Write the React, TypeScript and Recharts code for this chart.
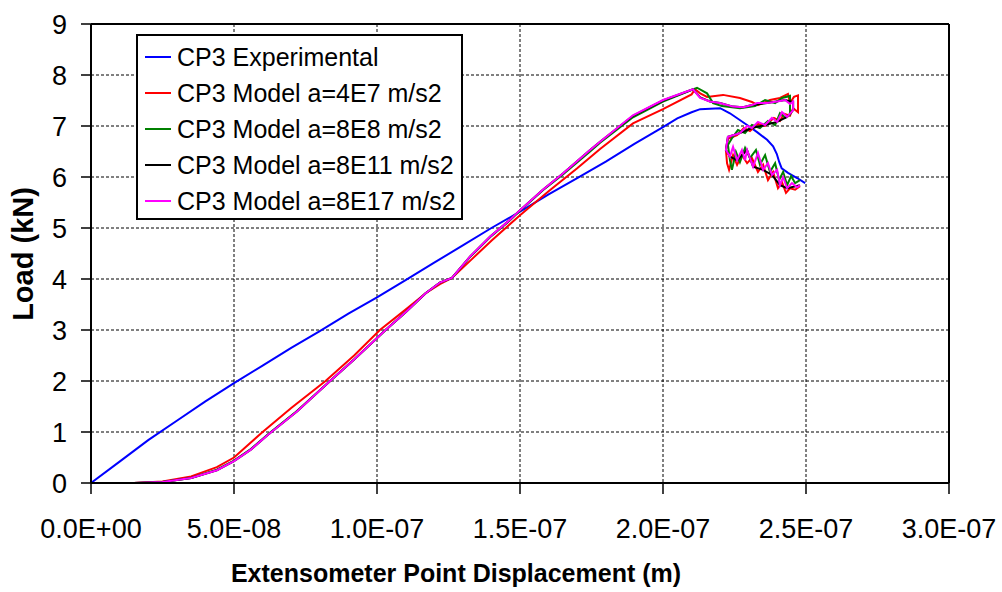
import React from "react";
import {
  LineChart,
  Line,
  XAxis,
  YAxis,
  CartesianGrid,
  Legend,
  ReferenceLine,
} from "recharts";

// displacement (m), load (kN)
const experimental: [number, number][] = [
  [0, 0], [1e-8, 0.42], [2e-8, 0.84], [3e-8, 1.22], [4e-8, 1.6], [5e-8, 1.96],
  [6e-8, 2.3], [7e-8, 2.65], [8e-8, 2.98], [9e-8, 3.32], [1e-7, 3.64],
  [1.1e-7, 3.98], [1.2e-7, 4.32], [1.3e-7, 4.66], [1.4e-7, 5.0], [1.5e-7, 5.32],
  [1.6e-7, 5.66], [1.7e-7, 5.98], [1.8e-7, 6.3], [1.9e-7, 6.65], [2.0e-7, 6.98],
  [2.05e-7, 7.15], [2.1e-7, 7.27], [2.13e-7, 7.33], [2.2e-7, 7.35],
  [2.234e-7, 7.25], [2.294e-7, 7.02], [2.329e-7, 6.88], [2.364e-7, 6.73],
  [2.385e-7, 6.6], [2.398e-7, 6.45], [2.406e-7, 6.3], [2.415e-7, 6.17],
  [2.437e-7, 6.08], [2.469e-7, 5.98], [2.497e-7, 5.88],
];

const modelA4E7: [number, number][] = [
  [0, 0], [1.5e-8, 0], [2.5e-8, 0.03], [3.5e-8, 0.13], [4.4e-8, 0.31], [5e-8, 0.5],
  [6e-8, 1.0], [7e-8, 1.47], [8.2e-8, 2.0], [9.2e-8, 2.5], [1.01e-7, 3.0],
  [1.1e-7, 3.4], [1.17e-7, 3.72], [1.22e-7, 3.9], [1.262e-7, 4.02], [1.33e-7, 4.38],
  [1.4e-7, 4.75], [1.5e-7, 5.25], [1.6e-7, 5.72], [1.7e-7, 6.17], [1.78e-7, 6.55],
  [1.895e-7, 7.05], [2.0e-7, 7.33], [2.1e-7, 7.62], [2.112e-7, 7.72],
  [2.13e-7, 7.64], [2.154e-7, 7.57], [2.21e-7, 7.61], [2.269e-7, 7.55],
  [2.311e-7, 7.47], [2.332e-7, 7.41], [2.35e-7, 7.45], [2.374e-7, 7.51],
  [2.409e-7, 7.55], [2.437e-7, 7.63], [2.444e-7, 7.45], [2.458e-7, 7.57],
  [2.472e-7, 7.6], [2.472e-7, 7.27], [2.455e-7, 7.35], [2.444e-7, 7.2],
  [2.423e-7, 7.24], [2.409e-7, 7.1], [2.388e-7, 7.16], [2.357e-7, 7.0],
  [2.332e-7, 7.04], [2.304e-7, 6.9], [2.283e-7, 6.96], [2.259e-7, 6.82],
  [2.227e-7, 6.75], [2.22e-7, 6.53], [2.224e-7, 6.27], [2.231e-7, 6.14],
  [2.245e-7, 6.43], [2.259e-7, 6.24], [2.276e-7, 6.43], [2.294e-7, 6.27],
  [2.311e-7, 6.37], [2.332e-7, 6.1], [2.35e-7, 6.24], [2.367e-7, 5.94],
  [2.385e-7, 6.1], [2.402e-7, 5.78], [2.416e-7, 5.9], [2.43e-7, 5.69],
  [2.444e-7, 5.78], [2.462e-7, 5.75], [2.479e-7, 5.82],
];

const modelA8E8: [number, number][] = [
  [0, 0], [1.5e-8, 0], [2.5e-8, 0.02], [3.5e-8, 0.1], [4.4e-8, 0.26], [5e-8, 0.44],
  [5.6e-8, 0.67], [6.2e-8, 0.96], [7.2e-8, 1.41], [8.36e-8, 2.0], [9.2e-8, 2.42],
  [1.03e-7, 3.0], [1.1e-7, 3.35], [1.17e-7, 3.72], [1.22e-7, 3.93], [1.262e-7, 4.02],
  [1.325e-7, 4.43], [1.395e-7, 4.82], [1.465e-7, 5.15], [1.5e-7, 5.34],
  [1.58e-7, 5.74], [1.65e-7, 6.05], [1.745e-7, 6.5], [1.78e-7, 6.67],
  [1.895e-7, 7.17], [2.0e-7, 7.48], [2.119e-7, 7.75],
  [2.154e-7, 7.64], [2.175e-7, 7.45], [2.206e-7, 7.39], [2.269e-7, 7.35],
  [2.322e-7, 7.39], [2.357e-7, 7.51], [2.392e-7, 7.45], [2.416e-7, 7.55],
  [2.444e-7, 7.59], [2.444e-7, 7.22], [2.427e-7, 7.16], [2.409e-7, 7.25],
  [2.392e-7, 7.02], [2.367e-7, 7.1], [2.339e-7, 6.96], [2.311e-7, 7.02],
  [2.287e-7, 6.86], [2.262e-7, 6.92], [2.241e-7, 6.76], [2.227e-7, 6.63],
  [2.234e-7, 6.33], [2.241e-7, 6.14], [2.255e-7, 6.49], [2.269e-7, 6.29],
  [2.287e-7, 6.57], [2.304e-7, 6.37], [2.325e-7, 6.53], [2.339e-7, 6.24],
  [2.357e-7, 6.43], [2.374e-7, 6.1], [2.392e-7, 6.27], [2.406e-7, 5.94],
  [2.42e-7, 6.1], [2.434e-7, 5.84], [2.448e-7, 6.02], [2.462e-7, 5.88],
  [2.479e-7, 5.94],
];

const modelA8E11: [number, number][] = [
  [0, 0], [1.5e-8, 0], [2.5e-8, 0.02], [3.5e-8, 0.1], [4.4e-8, 0.25], [5e-8, 0.43],
  [5.6e-8, 0.66], [6.2e-8, 0.95], [7.2e-8, 1.4], [8.36e-8, 2.0], [9.2e-8, 2.42],
  [1.03e-7, 3.0], [1.1e-7, 3.35], [1.17e-7, 3.72], [1.22e-7, 3.93], [1.262e-7, 4.02],
  [1.325e-7, 4.44], [1.395e-7, 4.83], [1.465e-7, 5.16], [1.5e-7, 5.35],
  [1.58e-7, 5.75], [1.65e-7, 6.07], [1.745e-7, 6.53], [1.78e-7, 6.69],
  [1.895e-7, 7.2], [2.0e-7, 7.5], [2.105e-7, 7.72],
  [2.13e-7, 7.56], [2.164e-7, 7.48], [2.199e-7, 7.45], [2.245e-7, 7.38],
  [2.28e-7, 7.37], [2.311e-7, 7.41], [2.364e-7, 7.45], [2.427e-7, 7.51],
  [2.455e-7, 7.47], [2.455e-7, 7.31], [2.434e-7, 7.18], [2.399e-7, 7.08],
  [2.357e-7, 7.02], [2.311e-7, 6.96], [2.269e-7, 6.86], [2.227e-7, 6.79],
  [2.22e-7, 6.53], [2.234e-7, 6.4], [2.259e-7, 6.33], [2.294e-7, 6.53],
  [2.315e-7, 6.2], [2.35e-7, 6.14], [2.381e-7, 6.04], [2.409e-7, 5.84],
  [2.434e-7, 5.78], [2.479e-7, 5.84],
];

const modelA8E17: [number, number][] = [
  [0, 0], [1.5e-8, 0], [2.5e-8, 0.02], [3.5e-8, 0.1], [4.4e-8, 0.25], [5e-8, 0.43],
  [5.6e-8, 0.66], [6.2e-8, 0.95], [7.2e-8, 1.4], [8.36e-8, 2.0], [9.2e-8, 2.42],
  [1.03e-7, 3.0], [1.1e-7, 3.35], [1.17e-7, 3.72], [1.22e-7, 3.93], [1.262e-7, 4.02],
  [1.325e-7, 4.44], [1.395e-7, 4.83], [1.465e-7, 5.16], [1.5e-7, 5.35],
  [1.58e-7, 5.75], [1.65e-7, 6.07], [1.745e-7, 6.53], [1.78e-7, 6.69],
  [1.895e-7, 7.21], [2.0e-7, 7.51], [2.105e-7, 7.72],
  [2.13e-7, 7.55], [2.164e-7, 7.48], [2.199e-7, 7.45], [2.245e-7, 7.38],
  [2.28e-7, 7.37], [2.311e-7, 7.41], [2.329e-7, 7.45], [2.364e-7, 7.45],
  [2.399e-7, 7.48], [2.427e-7, 7.51], [2.444e-7, 7.43], [2.455e-7, 7.48],
  [2.455e-7, 7.31], [2.434e-7, 7.18], [2.416e-7, 7.27], [2.399e-7, 7.08],
  [2.381e-7, 7.16], [2.357e-7, 7.02], [2.332e-7, 7.08], [2.311e-7, 6.96],
  [2.294e-7, 7.0], [2.269e-7, 6.86], [2.245e-7, 6.82], [2.227e-7, 6.79],
  [2.224e-7, 6.69], [2.22e-7, 6.53], [2.234e-7, 6.4], [2.245e-7, 6.59],
  [2.259e-7, 6.33], [2.276e-7, 6.53], [2.287e-7, 6.33], [2.294e-7, 6.53],
  [2.315e-7, 6.2], [2.332e-7, 6.47], [2.35e-7, 6.14], [2.367e-7, 6.27],
  [2.381e-7, 6.04], [2.399e-7, 6.14], [2.409e-7, 5.84], [2.42e-7, 6.0],
  [2.434e-7, 5.78], [2.451e-7, 5.88], [2.469e-7, 5.8], [2.479e-7, 5.84],
];

const xTicks = [0, 5e-8, 1e-7, 1.5e-7, 2e-7, 2.5e-7, 3e-7];
const yTicks = [0, 1, 2, 3, 4, 5, 6, 7, 8, 9];

const series = [
  { name: "CP3 Experimental", color: "#0000ff", points: experimental },
  { name: "CP3 Model a=4E7 m/s2", color: "#ff0000", points: modelA4E7 },
  { name: "CP3 Model a=8E8 m/s2", color: "#008000", points: modelA8E8 },
  { name: "CP3 Model a=8E11 m/s2", color: "#000000", points: modelA8E11 },
  { name: "CP3 Model a=8E17 m/s2", color: "#ff00ff", points: modelA8E17 },
];

const FONT = "Arial, 'Liberation Sans', sans-serif";

// Excel style scientific labels: 5.0E-08
const sci = (v: number) => {
  if (v === 0) return "0.0E+00";
  const [m, e] = v.toExponential(1).split("e");
  const n = parseInt(e, 10);
  return `${m}E${n < 0 ? "-" : "+"}${String(Math.abs(n)).padStart(2, "0")}`;
};

const toRows = (pts: [number, number][]) => pts.map(([x, y]) => ({ x, y }));

const LegendBox = () => (
  <div
    style={{
      boxSizing: "border-box",
      width: 327,
      height: 186,
      border: "2px solid #000",
      background: "#fff",
      paddingTop: 3,
      paddingLeft: 7,
      fontFamily: FONT,
      fontSize: 25,
      color: "#000",
    }}
  >
    {series.map((s) => (
      <div key={s.name} style={{ display: "flex", alignItems: "center", height: 36, whiteSpace: "nowrap" }}>
        <svg width={26} height={4} style={{ marginRight: 6 }}>
          <line x1={0} y1={2} x2={26} y2={2} stroke={s.color} strokeWidth={2} />
        </svg>
        <span>{s.name}</span>
      </div>
    ))}
  </div>
);

const XTitle = (props: any) => {
  const vb = props.viewBox;
  return (
    <text
      x={vb.x + vb.width / 2 - 64}
      y={vb.y + 99}
      textAnchor="middle"
      fontFamily={FONT}
      fontSize={25}
      fontWeight="bold"
      fill="#000"
    >
      Extensometer Point Displacement (m)
    </text>
  );
};

const YTitle = (props: any) => {
  const vb = props.viewBox;
  const cx = vb.x + 23;
  const cy = vb.y + 254 - 24;
  return (
    <text
      x={cx}
      y={cy}
      transform={`rotate(-90 ${cx} ${cy})`}
      textAnchor="middle"
      dominantBaseline="central"
      fontFamily={FONT}
      fontSize={29}
      fontWeight="bold"
      fill="#000"
    >
      Load (kN)
    </text>
  );
};

export default function App() {
  return (
    <div style={{ position: "absolute", left: 0, top: 0, width: 1002, height: 592, background: "#fff" }}>
      <LineChart width={1002} height={592} margin={{ top: 24, right: 53, left: 0, bottom: 0 }}>
        <CartesianGrid stroke="#000" strokeDasharray="3 2" strokeWidth={1} />
        <XAxis
          type="number"
          dataKey="x"
          domain={[0, 3e-7]}
          ticks={xTicks}
          tickFormatter={sci}
          height={109}
          tickSize={11}
          tickMargin={25}
          axisLine={{ stroke: "#000", strokeWidth: 2 }}
          tickLine={{ stroke: "#000", strokeWidth: 1.5 }}
          tick={{ fill: "#000", fontSize: 27, fontFamily: FONT }}
          label={<XTitle />}
          allowDataOverflow
        />
        <YAxis
          type="number"
          domain={[0, 9]}
          ticks={yTicks}
          width={91}
          tickSize={10}
          tickMargin={14}
          axisLine={{ stroke: "#000", strokeWidth: 2 }}
          tickLine={{ stroke: "#000", strokeWidth: 1.5 }}
          tick={{ fill: "#000", fontSize: 27, fontFamily: FONT }}
          label={<YTitle />}
        />
        <ReferenceLine y={9} stroke="#000" strokeWidth={2} />
        <ReferenceLine x={3e-7} stroke="#000" strokeWidth={2} />
        {series.map((s) => (
          <Line
            key={s.name}
            name={s.name}
            data={toRows(s.points)}
            dataKey="y"
            type="linear"
            stroke={s.color}
            strokeWidth={2}
            dot={false}
            activeDot={false}
            isAnimationActive={false}
          />
        ))}
        <Legend
          layout="horizontal"
          align="center"
          verticalAlign="middle"
          content={() => <LegendBox />}
          wrapperStyle={{ left: 136, top: 34, width: 327, height: 186 }}
        />
      </LineChart>
    </div>
  );
}
